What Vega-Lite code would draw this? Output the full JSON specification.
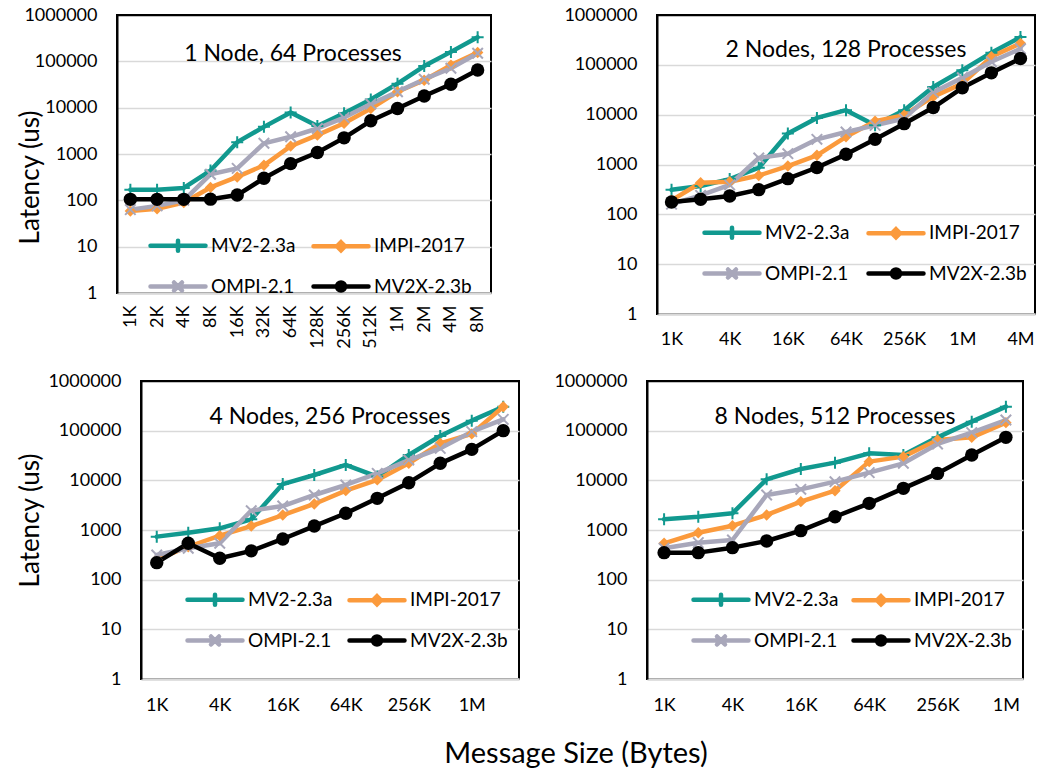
{
"$schema": "https://vega.github.io/schema/vega-lite/v6.json",
"padding": {"left": 16, "top": 5, "right": 5, "bottom": 5},
"background": "white",
"config": {
 "font": "Lato",
 "view": {"stroke": "#000000", "strokeWidth": 2},
 "axis": {"ticks": false, "labelFont": "Lato", "labelFontSize": 18, "labelColor": "#000000", "titleFont": "Lato", "titleFontWeight": "normal", "titleColor": "#000000", "gridColor": "#d9d9d9", "gridWidth": 1.5},
 "axisX": {"grid": false, "domainColor": "#d9d9d9", "domainWidth": 2.5, "labelPadding": 16, "labelAngle": 0, "labelOverlap": false},
 "axisY": {"domainColor": "#000000", "domainWidth": 2, "labelPadding": 20},
 "legend": {"labelFont": "Lato", "labelFontSize": 19, "labelColor": "#000000", "symbolSize": 400, "symbolStrokeWidth": 4.5, "labelOffset": 38, "rowPadding": 13, "columns": 2},
 "title": {"font": "Lato", "fontWeight": "normal", "color": "#000000"}
},
"title": {"text": "Message Size (Bytes)", "orient": "bottom", "anchor": "middle", "frame": "group", "fontSize": 29, "offset": 25, "dx": 459},
"datasets": {"d": [
{"p":1,"x":"1K","s":"MV2-2.3a","v":170},{"p":1,"x":"2K","s":"MV2-2.3a","v":170},{"p":1,"x":"4K","s":"MV2-2.3a","v":185},{"p":1,"x":"8K","s":"MV2-2.3a","v":440},{"p":1,"x":"16K","s":"MV2-2.3a","v":1800},{"p":1,"x":"32K","s":"MV2-2.3a","v":3850},{"p":1,"x":"64K","s":"MV2-2.3a","v":7900},{"p":1,"x":"128K","s":"MV2-2.3a","v":4000},{"p":1,"x":"256K","s":"MV2-2.3a","v":7600},{"p":1,"x":"512K","s":"MV2-2.3a","v":15000},{"p":1,"x":"1M","s":"MV2-2.3a","v":33000},{"p":1,"x":"2M","s":"MV2-2.3a","v":79000},{"p":1,"x":"4M","s":"MV2-2.3a","v":160000},{"p":1,"x":"8M","s":"MV2-2.3a","v":330000},
{"p":1,"x":"1K","s":"IMPI-2017","v":59},{"p":1,"x":"2K","s":"IMPI-2017","v":66},{"p":1,"x":"4K","s":"IMPI-2017","v":90},{"p":1,"x":"8K","s":"IMPI-2017","v":190},{"p":1,"x":"16K","s":"IMPI-2017","v":320},{"p":1,"x":"32K","s":"IMPI-2017","v":570},{"p":1,"x":"64K","s":"IMPI-2017","v":1480},{"p":1,"x":"128K","s":"IMPI-2017","v":2550},{"p":1,"x":"256K","s":"IMPI-2017","v":4600},{"p":1,"x":"512K","s":"IMPI-2017","v":9600},{"p":1,"x":"1M","s":"IMPI-2017","v":22000},{"p":1,"x":"2M","s":"IMPI-2017","v":39000},{"p":1,"x":"4M","s":"IMPI-2017","v":83000},{"p":1,"x":"8M","s":"IMPI-2017","v":155000},
{"p":1,"x":"1K","s":"OMPI-2.1","v":63},{"p":1,"x":"2K","s":"OMPI-2.1","v":76},{"p":1,"x":"4K","s":"OMPI-2.1","v":100},{"p":1,"x":"8K","s":"OMPI-2.1","v":365},{"p":1,"x":"16K","s":"OMPI-2.1","v":490},{"p":1,"x":"32K","s":"OMPI-2.1","v":1700},{"p":1,"x":"64K","s":"OMPI-2.1","v":2350},{"p":1,"x":"128K","s":"OMPI-2.1","v":3550},{"p":1,"x":"256K","s":"OMPI-2.1","v":6100},{"p":1,"x":"512K","s":"OMPI-2.1","v":12000},{"p":1,"x":"1M","s":"OMPI-2.1","v":22000},{"p":1,"x":"2M","s":"OMPI-2.1","v":41000},{"p":1,"x":"4M","s":"OMPI-2.1","v":71000},{"p":1,"x":"8M","s":"OMPI-2.1","v":150000},
{"p":1,"x":"1K","s":"MV2X-2.3b","v":105},{"p":1,"x":"2K","s":"MV2X-2.3b","v":105},{"p":1,"x":"4K","s":"MV2X-2.3b","v":105},{"p":1,"x":"8K","s":"MV2X-2.3b","v":106},{"p":1,"x":"16K","s":"MV2X-2.3b","v":130},{"p":1,"x":"32K","s":"MV2X-2.3b","v":300},{"p":1,"x":"64K","s":"MV2X-2.3b","v":620},{"p":1,"x":"128K","s":"MV2X-2.3b","v":1080},{"p":1,"x":"256K","s":"MV2X-2.3b","v":2230},{"p":1,"x":"512K","s":"MV2X-2.3b","v":5200},{"p":1,"x":"1M","s":"MV2X-2.3b","v":9600},{"p":1,"x":"2M","s":"MV2X-2.3b","v":17800},{"p":1,"x":"4M","s":"MV2X-2.3b","v":32000},{"p":1,"x":"8M","s":"MV2X-2.3b","v":65000},
{"p":2,"x":"1K","s":"MV2-2.3a","v":310},{"p":2,"x":"2K","s":"MV2-2.3a","v":370},{"p":2,"x":"4K","s":"MV2-2.3a","v":510},{"p":2,"x":"8K","s":"MV2-2.3a","v":860},{"p":2,"x":"16K","s":"MV2-2.3a","v":4200},{"p":2,"x":"32K","s":"MV2-2.3a","v":8600},{"p":2,"x":"64K","s":"MV2-2.3a","v":12300},{"p":2,"x":"128K","s":"MV2-2.3a","v":6100},{"p":2,"x":"256K","s":"MV2-2.3a","v":12300},{"p":2,"x":"512K","s":"MV2-2.3a","v":36000},{"p":2,"x":"1M","s":"MV2-2.3a","v":78000},{"p":2,"x":"2M","s":"MV2-2.3a","v":175000},{"p":2,"x":"4M","s":"MV2-2.3a","v":360000},
{"p":2,"x":"1K","s":"IMPI-2017","v":190},{"p":2,"x":"2K","s":"IMPI-2017","v":430},{"p":2,"x":"4K","s":"IMPI-2017","v":450},{"p":2,"x":"8K","s":"IMPI-2017","v":600},{"p":2,"x":"16K","s":"IMPI-2017","v":930},{"p":2,"x":"32K","s":"IMPI-2017","v":1530},{"p":2,"x":"64K","s":"IMPI-2017","v":3600},{"p":2,"x":"128K","s":"IMPI-2017","v":7400},{"p":2,"x":"256K","s":"IMPI-2017","v":9800},{"p":2,"x":"512K","s":"IMPI-2017","v":23000},{"p":2,"x":"1M","s":"IMPI-2017","v":42000},{"p":2,"x":"2M","s":"IMPI-2017","v":145000},{"p":2,"x":"4M","s":"IMPI-2017","v":270000},
{"p":2,"x":"1K","s":"OMPI-2.1","v":160},{"p":2,"x":"2K","s":"OMPI-2.1","v":240},{"p":2,"x":"4K","s":"OMPI-2.1","v":390},{"p":2,"x":"8K","s":"OMPI-2.1","v":1350},{"p":2,"x":"16K","s":"OMPI-2.1","v":1650},{"p":2,"x":"32K","s":"OMPI-2.1","v":3200},{"p":2,"x":"64K","s":"OMPI-2.1","v":4500},{"p":2,"x":"128K","s":"OMPI-2.1","v":6100},{"p":2,"x":"256K","s":"OMPI-2.1","v":8400},{"p":2,"x":"512K","s":"OMPI-2.1","v":28000},{"p":2,"x":"1M","s":"OMPI-2.1","v":55000},{"p":2,"x":"2M","s":"OMPI-2.1","v":115000},{"p":2,"x":"4M","s":"OMPI-2.1","v":210000},
{"p":2,"x":"1K","s":"MV2X-2.3b","v":177},{"p":2,"x":"2K","s":"MV2X-2.3b","v":200},{"p":2,"x":"4K","s":"MV2X-2.3b","v":233},{"p":2,"x":"8K","s":"MV2X-2.3b","v":313},{"p":2,"x":"16K","s":"MV2X-2.3b","v":520},{"p":2,"x":"32K","s":"MV2X-2.3b","v":870},{"p":2,"x":"64K","s":"MV2X-2.3b","v":1600},{"p":2,"x":"128K","s":"MV2X-2.3b","v":3200},{"p":2,"x":"256K","s":"MV2X-2.3b","v":6600},{"p":2,"x":"512K","s":"MV2X-2.3b","v":13900},{"p":2,"x":"1M","s":"MV2X-2.3b","v":34600},{"p":2,"x":"2M","s":"MV2X-2.3b","v":69000},{"p":2,"x":"4M","s":"MV2X-2.3b","v":134000},
{"p":3,"x":"1K","s":"MV2-2.3a","v":735},{"p":3,"x":"2K","s":"MV2-2.3a","v":880},{"p":3,"x":"4K","s":"MV2-2.3a","v":1080},{"p":3,"x":"8K","s":"MV2-2.3a","v":1640},{"p":3,"x":"16K","s":"MV2-2.3a","v":8400},{"p":3,"x":"32K","s":"MV2-2.3a","v":12800},{"p":3,"x":"64K","s":"MV2-2.3a","v":20400},{"p":3,"x":"128K","s":"MV2-2.3a","v":11900},{"p":3,"x":"256K","s":"MV2-2.3a","v":32400},{"p":3,"x":"512K","s":"MV2-2.3a","v":78000},{"p":3,"x":"1M","s":"MV2-2.3a","v":159000},{"p":3,"x":"2M","s":"MV2-2.3a","v":304000},
{"p":3,"x":"1K","s":"IMPI-2017","v":256},{"p":3,"x":"2K","s":"IMPI-2017","v":460},{"p":3,"x":"4K","s":"IMPI-2017","v":770},{"p":3,"x":"8K","s":"IMPI-2017","v":1200},{"p":3,"x":"16K","s":"IMPI-2017","v":2000},{"p":3,"x":"32K","s":"IMPI-2017","v":3340},{"p":3,"x":"64K","s":"IMPI-2017","v":6200},{"p":3,"x":"128K","s":"IMPI-2017","v":10200},{"p":3,"x":"256K","s":"IMPI-2017","v":22000},{"p":3,"x":"512K","s":"IMPI-2017","v":55600},{"p":3,"x":"1M","s":"IMPI-2017","v":86000},{"p":3,"x":"2M","s":"IMPI-2017","v":304000},
{"p":3,"x":"1K","s":"OMPI-2.1","v":314},{"p":3,"x":"2K","s":"OMPI-2.1","v":430},{"p":3,"x":"4K","s":"OMPI-2.1","v":540},{"p":3,"x":"8K","s":"OMPI-2.1","v":2450},{"p":3,"x":"16K","s":"OMPI-2.1","v":3040},{"p":3,"x":"32K","s":"OMPI-2.1","v":5070},{"p":3,"x":"64K","s":"OMPI-2.1","v":8060},{"p":3,"x":"128K","s":"OMPI-2.1","v":13800},{"p":3,"x":"256K","s":"OMPI-2.1","v":25600},{"p":3,"x":"512K","s":"OMPI-2.1","v":44000},{"p":3,"x":"1M","s":"OMPI-2.1","v":95500},{"p":3,"x":"2M","s":"OMPI-2.1","v":169000},
{"p":3,"x":"1K","s":"MV2X-2.3b","v":220},{"p":3,"x":"2K","s":"MV2X-2.3b","v":540},{"p":3,"x":"4K","s":"MV2X-2.3b","v":270},{"p":3,"x":"8K","s":"MV2X-2.3b","v":380},{"p":3,"x":"16K","s":"MV2X-2.3b","v":660},{"p":3,"x":"32K","s":"MV2X-2.3b","v":1200},{"p":3,"x":"64K","s":"MV2X-2.3b","v":2170},{"p":3,"x":"128K","s":"MV2X-2.3b","v":4340},{"p":3,"x":"256K","s":"MV2X-2.3b","v":8970},{"p":3,"x":"512K","s":"MV2X-2.3b","v":22000},{"p":3,"x":"1M","s":"MV2X-2.3b","v":42000},{"p":3,"x":"2M","s":"MV2X-2.3b","v":100000},
{"p":4,"x":"1K","s":"MV2-2.3a","v":1640},{"p":4,"x":"2K","s":"MV2-2.3a","v":1850},{"p":4,"x":"4K","s":"MV2-2.3a","v":2170},{"p":4,"x":"8K","s":"MV2-2.3a","v":10500},{"p":4,"x":"16K","s":"MV2-2.3a","v":16900},{"p":4,"x":"32K","s":"MV2-2.3a","v":22700},{"p":4,"x":"64K","s":"MV2-2.3a","v":35000},{"p":4,"x":"128K","s":"MV2-2.3a","v":32400},{"p":4,"x":"256K","s":"MV2-2.3a","v":73400},{"p":4,"x":"512K","s":"MV2-2.3a","v":152000},{"p":4,"x":"1M","s":"MV2-2.3a","v":304000},
{"p":4,"x":"1K","s":"IMPI-2017","v":540},{"p":4,"x":"2K","s":"IMPI-2017","v":880},{"p":4,"x":"4K","s":"IMPI-2017","v":1220},{"p":4,"x":"8K","s":"IMPI-2017","v":2010},{"p":4,"x":"16K","s":"IMPI-2017","v":3720},{"p":4,"x":"32K","s":"IMPI-2017","v":6190},{"p":4,"x":"64K","s":"IMPI-2017","v":23800},{"p":4,"x":"128K","s":"IMPI-2017","v":30000},{"p":4,"x":"256K","s":"IMPI-2017","v":64900},{"p":4,"x":"512K","s":"IMPI-2017","v":73400},{"p":4,"x":"1M","s":"IMPI-2017","v":145000},
{"p":4,"x":"1K","s":"OMPI-2.1","v":428},{"p":4,"x":"2K","s":"OMPI-2.1","v":556},{"p":4,"x":"4K","s":"OMPI-2.1","v":629},{"p":4,"x":"8K","s":"OMPI-2.1","v":5070},{"p":4,"x":"16K","s":"OMPI-2.1","v":6590},{"p":4,"x":"32K","s":"OMPI-2.1","v":9400},{"p":4,"x":"64K","s":"OMPI-2.1","v":14300},{"p":4,"x":"128K","s":"OMPI-2.1","v":22000},{"p":4,"x":"256K","s":"OMPI-2.1","v":54000},{"p":4,"x":"512K","s":"OMPI-2.1","v":91200},{"p":4,"x":"1M","s":"OMPI-2.1","v":164000},
{"p":4,"x":"1K","s":"MV2X-2.3b","v":350},{"p":4,"x":"2K","s":"MV2X-2.3b","v":350},{"p":4,"x":"4K","s":"MV2X-2.3b","v":441},{"p":4,"x":"8K","s":"MV2X-2.3b","v":601},{"p":4,"x":"16K","s":"MV2X-2.3b","v":970},{"p":4,"x":"32K","s":"MV2X-2.3b","v":1850},{"p":4,"x":"64K","s":"MV2X-2.3b","v":3440},{"p":4,"x":"128K","s":"MV2X-2.3b","v":6900},{"p":4,"x":"256K","s":"MV2X-2.3b","v":13800},{"p":4,"x":"512K","s":"MV2X-2.3b","v":32400},{"p":4,"x":"1M","s":"MV2X-2.3b","v":73400}
]},
"data": {"name": "d"},
"spacing": 21,
"resolve": {"scale": {"color": "independent"}, "legend": {"color": "independent"}},
"vconcat": [
 {"spacing": 70,
  "resolve": {"scale": {"color": "independent"}, "legend": {"color": "independent"}},
  "hconcat": [
  {"width": 374, "height": 278,
   "title": {"text": "1 Node, 64 Processes", "fontSize": 23, "offset": -78, "dx": -11, "frame": "group", "anchor": "middle", "baseline": "alphabetic"},
   "transform": [{"filter": "datum.p == 1"}],
   "encoding": {
    "x": {"field": "x", "type": "ordinal", "scale": {"type": "point", "padding": 0.5, "domain": ["1K","2K","4K","8K","16K","32K","64K","128K","256K","512K","1M","2M","4M","8M"]}, "axis": {"labelAngle": 270, "labelPadding": 12, "title": null}},
    "y": {"field": "v", "type": "quantitative", "scale": {"type": "log", "domain": [1, 1000000]}, "axis": {"values": [1,10,100,1000,10000,100000,1000000], "format": "d", "gridColor": {"condition": {"test": "datum.value >= 1000000", "value": "#000000"}, "value": "#d9d9d9"}, "title": "Latency (us)", "titleFontSize": 26, "titleX": -79, "titleY": 162, "titleAngle": 270, "titleAlign": "center", "titleBaseline": "alphabetic"}}
   },
   "layer": [
    {"mark": {"type": "line", "strokeWidth": 4.5, "strokeCap": "round", "strokeJoin": "round"},
     "encoding": {"order": {"value": null}, "color": {"field": "s", "type": "nominal", "scale": {"domain": ["MV2-2.3a","OMPI-2.1","IMPI-2017","MV2X-2.3b"], "range": ["#11998f","#a8a7ba","#fb9a3c","#000000"]},
      "legend": {"orient": "none", "legendX": 31, "legendY": 218, "columns": 2, "columnPadding": 8, "title": null,
       "encode": {"symbols": {"update": {
        "shape": [{"test": "datum.value === 'MV2-2.3a'", "value": "M-1,0H4.5M1.75,-0.5V0.5"}, {"test": "datum.value === 'IMPI-2017'", "value": "M-1,0H4.5M1.75,-0.4L2.15,0L1.75,0.4L1.35,0Z"}, {"test": "datum.value === 'OMPI-2.1'", "value": "M-1,0H4.5M1.35,-0.4L2.15,0.4M1.35,0.4L2.15,-0.4"}, {"value": "M-1,0H4.5M2.15,0A0.4,0.4,0,1,1,1.35,0A0.4,0.4,0,1,1,2.15,0Z"}],
        "fill": [{"test": "datum.value === 'IMPI-2017'", "value": "#fb9a3c"}, {"test": "datum.value === 'MV2X-2.3b'", "value": "#000000"}, {"value": "transparent"}],
        "strokeCap": {"value": "round"}}}}}}}},
    {"transform": [{"filter": "datum.s === 'MV2-2.3a'"}], "mark": {"type": "point", "shape": "M-1,0H1M0,-1V1", "size": 144, "filled": false, "stroke": "#11998f", "strokeWidth": 2, "opacity": 1}},
    {"transform": [{"filter": "datum.s === 'IMPI-2017'"}], "mark": {"type": "point", "shape": "M0,-1L1,0L0,1L-1,0Z", "size": 130, "filled": true, "color": "#fb9a3c", "opacity": 1}},
    {"transform": [{"filter": "datum.s === 'OMPI-2.1'"}], "mark": {"type": "point", "shape": "M-1,-1L1,1M-1,1L1,-1", "size": 110, "filled": false, "stroke": "#a8a7ba", "strokeWidth": 2, "opacity": 1}},
    {"transform": [{"filter": "datum.s === 'MV2X-2.3b'"}], "mark": {"type": "point", "shape": "circle", "size": 180, "filled": true, "color": "#000000", "opacity": 1}}
   ]
  },
  {"width": 378, "height": 299,
   "title": {"text": "2 Nodes, 128 Processes", "fontSize": 23, "offset": -74, "dx": 0, "frame": "group", "anchor": "middle", "baseline": "alphabetic"},
   "transform": [{"filter": "datum.p == 2"}],
   "encoding": {
    "x": {"field": "x", "type": "ordinal", "scale": {"type": "point", "padding": 0.5, "domain": ["1K","2K","4K","8K","16K","32K","64K","128K","256K","512K","1M","2M","4M"]}, "axis": {"values": ["1K","4K","16K","64K","256K","1M","4M"], "title": null}},
    "y": {"field": "v", "type": "quantitative", "scale": {"type": "log", "domain": [1, 1000000]}, "axis": {"values": [1,10,100,1000,10000,100000,1000000], "format": "d", "gridColor": {"condition": {"test": "datum.value >= 1000000", "value": "#000000"}, "value": "#d9d9d9"}, "title": null}}
   },
   "layer": [
    {"mark": {"type": "line", "strokeWidth": 4.5, "strokeCap": "round", "strokeJoin": "round"},
     "encoding": {"order": {"value": null}, "color": {"field": "s", "type": "nominal", "scale": {"domain": ["MV2-2.3a","OMPI-2.1","IMPI-2017","MV2X-2.3b"], "range": ["#11998f","#a8a7ba","#fb9a3c","#000000"]},
      "legend": {"orient": "none", "legendX": 45, "legendY": 205, "columns": 2, "columnPadding": 9, "title": null,
       "encode": {"symbols": {"update": {
        "shape": [{"test": "datum.value === 'MV2-2.3a'", "value": "M-1,0H4.5M1.75,-0.5V0.5"}, {"test": "datum.value === 'IMPI-2017'", "value": "M-1,0H4.5M1.75,-0.4L2.15,0L1.75,0.4L1.35,0Z"}, {"test": "datum.value === 'OMPI-2.1'", "value": "M-1,0H4.5M1.35,-0.4L2.15,0.4M1.35,0.4L2.15,-0.4"}, {"value": "M-1,0H4.5M2.15,0A0.4,0.4,0,1,1,1.35,0A0.4,0.4,0,1,1,2.15,0Z"}],
        "fill": [{"test": "datum.value === 'IMPI-2017'", "value": "#fb9a3c"}, {"test": "datum.value === 'MV2X-2.3b'", "value": "#000000"}, {"value": "transparent"}],
        "strokeCap": {"value": "round"}}}}}}}},
    {"transform": [{"filter": "datum.s === 'MV2-2.3a'"}], "mark": {"type": "point", "shape": "M-1,0H1M0,-1V1", "size": 144, "filled": false, "stroke": "#11998f", "strokeWidth": 2, "opacity": 1}},
    {"transform": [{"filter": "datum.s === 'IMPI-2017'"}], "mark": {"type": "point", "shape": "M0,-1L1,0L0,1L-1,0Z", "size": 130, "filled": true, "color": "#fb9a3c", "opacity": 1}},
    {"transform": [{"filter": "datum.s === 'OMPI-2.1'"}], "mark": {"type": "point", "shape": "M-1,-1L1,1M-1,1L1,-1", "size": 110, "filled": false, "stroke": "#a8a7ba", "strokeWidth": 2, "opacity": 1}},
    {"transform": [{"filter": "datum.s === 'MV2X-2.3b'"}], "mark": {"type": "point", "shape": "circle", "size": 180, "filled": true, "color": "#000000", "opacity": 1}}
   ]
  }
 ]},
 {"spacing": 32,
  "resolve": {"scale": {"color": "independent"}, "legend": {"color": "independent"}},
  "hconcat": [
   {"spacing": 0, "bounds": "flush",
    "resolve": {"scale": {"color": "independent"}, "legend": {"color": "independent"}},
    "hconcat": [
    {"width": 24, "height": 298, "data": {"values": [{"z": 0}]}, "view": {"stroke": null}, "mark": {"type": "point", "opacity": 0}, "encoding": {}},
    {"width": 378, "height": 298,
    "title": {"text": "4 Nodes, 256 Processes", "fontSize": 23, "offset": -75, "dx": 0, "frame": "group", "anchor": "middle", "baseline": "alphabetic"},
    "transform": [{"filter": "datum.p == 3"}],
    "encoding": {
     "x": {"field": "x", "type": "ordinal", "scale": {"type": "point", "padding": 0.5, "domain": ["1K","2K","4K","8K","16K","32K","64K","128K","256K","512K","1M","2M"]}, "axis": {"values": ["1K","4K","16K","64K","256K","1M"], "labelPadding": 17, "title": null}},
     "y": {"field": "v", "type": "quantitative", "scale": {"type": "log", "domain": [1, 1000000]}, "axis": {"values": [1,10,100,1000,10000,100000,1000000], "format": "d", "gridColor": {"condition": {"test": "datum.value >= 1000000", "value": "#000000"}, "value": "#d9d9d9"}, "title": "Latency (us)", "titleFontSize": 26, "titleX": -103, "titleY": 139, "titleAngle": 270, "titleAlign": "center", "titleBaseline": "alphabetic"}}
    },
    "layer": [
     {"mark": {"type": "line", "strokeWidth": 4.5, "strokeCap": "round", "strokeJoin": "round"},
      "encoding": {"order": {"value": null}, "color": {"field": "s", "type": "nominal", "scale": {"domain": ["MV2-2.3a","OMPI-2.1","IMPI-2017","MV2X-2.3b"], "range": ["#11998f","#a8a7ba","#fb9a3c","#000000"]},
       "legend": {"orient": "none", "legendX": 44, "legendY": 206, "columns": 2, "columnPadding": 7, "title": null,
        "encode": {"symbols": {"update": {
         "shape": [{"test": "datum.value === 'MV2-2.3a'", "value": "M-1,0H4.5M1.75,-0.5V0.5"}, {"test": "datum.value === 'IMPI-2017'", "value": "M-1,0H4.5M1.75,-0.4L2.15,0L1.75,0.4L1.35,0Z"}, {"test": "datum.value === 'OMPI-2.1'", "value": "M-1,0H4.5M1.35,-0.4L2.15,0.4M1.35,0.4L2.15,-0.4"}, {"value": "M-1,0H4.5M2.15,0A0.4,0.4,0,1,1,1.35,0A0.4,0.4,0,1,1,2.15,0Z"}],
         "fill": [{"test": "datum.value === 'IMPI-2017'", "value": "#fb9a3c"}, {"test": "datum.value === 'MV2X-2.3b'", "value": "#000000"}, {"value": "transparent"}],
         "strokeCap": {"value": "round"}}}}}}}},
     {"transform": [{"filter": "datum.s === 'MV2-2.3a'"}], "mark": {"type": "point", "shape": "M-1,0H1M0,-1V1", "size": 144, "filled": false, "stroke": "#11998f", "strokeWidth": 2, "opacity": 1}},
     {"transform": [{"filter": "datum.s === 'IMPI-2017'"}], "mark": {"type": "point", "shape": "M0,-1L1,0L0,1L-1,0Z", "size": 130, "filled": true, "color": "#fb9a3c", "opacity": 1}},
     {"transform": [{"filter": "datum.s === 'OMPI-2.1'"}], "mark": {"type": "point", "shape": "M-1,-1L1,1M-1,1L1,-1", "size": 110, "filled": false, "stroke": "#a8a7ba", "strokeWidth": 2, "opacity": 1}},
     {"transform": [{"filter": "datum.s === 'MV2X-2.3b'"}], "mark": {"type": "point", "shape": "circle", "size": 180, "filled": true, "color": "#000000", "opacity": 1}}
    ]
   }
   ]},
  {"width": 376, "height": 298,
   "title": {"text": "8 Nodes, 512 Processes", "fontSize": 23, "offset": -75, "dx": 0, "frame": "group", "anchor": "middle", "baseline": "alphabetic"},
   "transform": [{"filter": "datum.p == 4"}],
   "encoding": {
    "x": {"field": "x", "type": "ordinal", "scale": {"type": "point", "padding": 0.5, "domain": ["1K","2K","4K","8K","16K","32K","64K","128K","256K","512K","1M"]}, "axis": {"values": ["1K","4K","16K","64K","256K","1M"], "labelPadding": 17, "title": null}},
    "y": {"field": "v", "type": "quantitative", "scale": {"type": "log", "domain": [1, 1000000]}, "axis": {"values": [1,10,100,1000,10000,100000,1000000], "format": "d", "gridColor": {"condition": {"test": "datum.value >= 1000000", "value": "#000000"}, "value": "#d9d9d9"}, "title": null}}
   },
   "layer": [
    {"mark": {"type": "line", "strokeWidth": 4.5, "strokeCap": "round", "strokeJoin": "round"},
     "encoding": {"order": {"value": null}, "color": {"field": "s", "type": "nominal", "scale": {"domain": ["MV2-2.3a","OMPI-2.1","IMPI-2017","MV2X-2.3b"], "range": ["#11998f","#a8a7ba","#fb9a3c","#000000"]},
      "legend": {"orient": "none", "legendX": 44, "legendY": 206, "columns": 2, "columnPadding": 5, "title": null,
       "encode": {"symbols": {"update": {
        "shape": [{"test": "datum.value === 'MV2-2.3a'", "value": "M-1,0H4.5M1.75,-0.5V0.5"}, {"test": "datum.value === 'IMPI-2017'", "value": "M-1,0H4.5M1.75,-0.4L2.15,0L1.75,0.4L1.35,0Z"}, {"test": "datum.value === 'OMPI-2.1'", "value": "M-1,0H4.5M1.35,-0.4L2.15,0.4M1.35,0.4L2.15,-0.4"}, {"value": "M-1,0H4.5M2.15,0A0.4,0.4,0,1,1,1.35,0A0.4,0.4,0,1,1,2.15,0Z"}],
        "fill": [{"test": "datum.value === 'IMPI-2017'", "value": "#fb9a3c"}, {"test": "datum.value === 'MV2X-2.3b'", "value": "#000000"}, {"value": "transparent"}],
        "strokeCap": {"value": "round"}}}}}}}},
    {"transform": [{"filter": "datum.s === 'MV2-2.3a'"}], "mark": {"type": "point", "shape": "M-1,0H1M0,-1V1", "size": 144, "filled": false, "stroke": "#11998f", "strokeWidth": 2, "opacity": 1}},
    {"transform": [{"filter": "datum.s === 'IMPI-2017'"}], "mark": {"type": "point", "shape": "M0,-1L1,0L0,1L-1,0Z", "size": 130, "filled": true, "color": "#fb9a3c", "opacity": 1}},
    {"transform": [{"filter": "datum.s === 'OMPI-2.1'"}], "mark": {"type": "point", "shape": "M-1,-1L1,1M-1,1L1,-1", "size": 110, "filled": false, "stroke": "#a8a7ba", "strokeWidth": 2, "opacity": 1}},
    {"transform": [{"filter": "datum.s === 'MV2X-2.3b'"}], "mark": {"type": "point", "shape": "circle", "size": 180, "filled": true, "color": "#000000", "opacity": 1}}
   ]
  }
 ]}
]
}
